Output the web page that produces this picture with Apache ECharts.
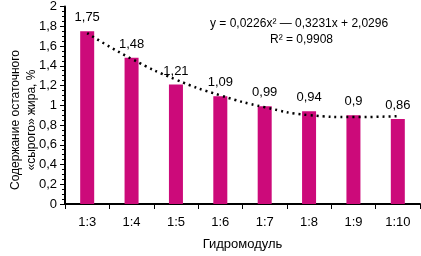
<!DOCTYPE html>
<html>
<head>
<meta charset="utf-8">
<script src="https://cdn.jsdelivr.net/npm/echarts@6/dist/echarts.min.js"></script>
<style>
  html, body { margin: 0; padding: 0; background: #fff; }
  #chart { width: 421px; height: 256px; }
</style>
</head>
<body>
<div id="chart"></div>
<script>
// данные
var categories = ['1:3', '1:4', '1:5', '1:6', '1:7', '1:8', '1:9', '1:10'];
var fatValues = [1.75, 1.48, 1.21, 1.09, 0.99, 0.94, 0.9, 0.86];
var trendValues = [1.73, 1.47, 1.26, 1.10, 0.98, 0.90, 0.88, 0.89];
var yTitle = 'Содержание остаточного\n«сырого» жира, %';

var font = 'Liberation Sans';
function comma(v) { return String(v).replace('.', ','); }

var chart = echarts.init(document.getElementById('chart'), null, { renderer: 'canvas' });

var option = {
  animation: false,
  textStyle: { fontFamily: font },
  grid: { left: 65, right: 1, top: 6, bottom: 49 },
  xAxis: {
    type: 'category',
    data: categories,
    name: 'Гидромодуль',
    nameLocation: 'middle',
    nameGap: 34,
    nameTextStyle: { fontSize: 13, color: '#000', fontFamily: font },
    axisLine: { lineStyle: { color: '#000', width: 2 } },
    axisTick: { show: true, length: 5, lineStyle: { color: '#000', width: 1 } },
    axisLabel: { color: '#000', fontSize: 13, margin: 12, fontFamily: font }
  },
  yAxis: {
    type: 'value',
    min: 0,
    max: 2,
    interval: 0.2,
    axisLine: { show: true, lineStyle: { color: '#000', width: 2 } },
    axisTick: { show: true, length: 5, lineStyle: { color: '#000' } },
    minorTick: { show: true, splitNumber: 4, length: 3, lineStyle: { color: '#000' } },
    splitLine: { show: false },
    axisLabel: {
      color: '#000', fontSize: 13, margin: 8, fontFamily: font,
      formatter: function (v) { return comma(Math.round(v * 10) / 10); }
    }
  },
  series: [{
    type: 'bar',
    data: fatValues,
    barWidth: 14,
    itemStyle: { color: '#cc0a7a' },
    label: {
      show: true,
      position: 'top',
      distance: 7,
      color: '#000',
      fontSize: 13,
      fontFamily: font,
      formatter: function (p) { return comma(p.value); }
    }
  }, {
    type: 'line',
    data: trendValues,
    smooth: true,
    symbol: 'none',
    lineStyle: { color: '#000', width: 2.5, type: [2, 4] },
    z: 3
  }],
  graphic: [{
    type: 'text',
    x: 24,
    y: 120,
    rotation: Math.PI / 2,
    style: {
      text: yTitle, font: '12px ' + font, fill: '#000',
      align: 'center', verticalAlign: 'middle', lineHeight: 16
    }
  }, {
    type: 'text',
    left: 210,
    top: 18,
    style: { text: 'y = 0,0226x² — 0,3231x + 2,0296', font: '12px ' + font, fill: '#000' }
  }, {
    type: 'text',
    left: 270,
    top: 34,
    style: { text: 'R² = 0,9908', font: '12px ' + font, fill: '#000' }
  }]
};

chart.setOption(option);
</script>
</body>
</html>
